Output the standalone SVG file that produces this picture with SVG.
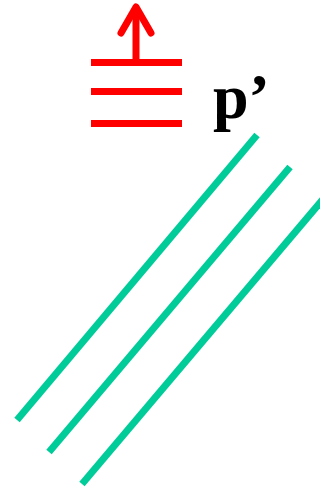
<svg xmlns="http://www.w3.org/2000/svg" width="320" height="490" viewBox="0 0 320 490">
<style>
.red{stroke:#ff0000;stroke-width:7;fill:none}
.grn{stroke:#00cc99;stroke-width:7;fill:none}
.lbl{font-family:"Liberation Serif",serif;font-weight:bold;font-size:64px;fill:#000}
</style>
<rect width="320" height="490" fill="#fff"/>
<g id="levels">
<line class="red" x1="91" y1="62.5" x2="182" y2="62.5"/>
<line class="red" x1="91" y1="91.5" x2="182" y2="91.5"/>
<line class="red" x1="91" y1="123.5" x2="182" y2="123.5"/>
</g>
<g id="arrow">
<line class="red" x1="136" y1="62" x2="136" y2="8" stroke-width="6"/>
<polyline class="red" points="121,33 136,7 151,33" stroke-width="6" stroke-linecap="round" stroke-linejoin="round"/>
</g>
<g id="label"><text class="lbl" x="213" y="118">p’</text></g>
<g id="lines">
<line class="grn" x1="257" y1="135" x2="17" y2="420"/>
<line class="grn" x1="290" y1="167" x2="49" y2="452"/>
<line class="grn" x1="324" y1="198" x2="82" y2="484"/>
</g>
</svg>
